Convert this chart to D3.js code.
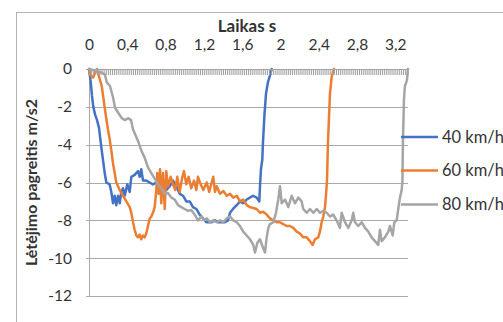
<!DOCTYPE html>
<html>
<head>
<meta charset="utf-8">
<script src="https://cdn.jsdelivr.net/npm/d3@7"></script>
<style>
  html, body { margin: 0; padding: 0; background: #fff; }
  svg { display: block; }
  text { font-family: Lato, "Open Sans", sans-serif; fill: #333; }
</style>
</head>
<body>
<svg id="chart" width="503" height="322"></svg>
<script>
// Braking deceleration over time for three initial speeds.
const seriesNames = ["40 km/h", "60 km/h", "80 km/h"];
const seriesColors = ["#4472C4", "#ED7D31", "#A5A5A5"];

const xLabelTicks = [0, 0.4, 0.8, 1.2, 1.6, 2, 2.4, 2.8, 3.2];
const yTicks = [0, -2, -4, -6, -8, -10, -12];

const t40 = [0, 0.016, 0.031, 0.045, 0.063, 0.084, 0.104, 0.128, 0.146, 0.164, 0.181, 0.216, 0.233, 0.251, 0.268, 0.285, 0.303, 0.321, 0.337, 0.355, 0.373, 0.400, 0.425, 0.442, 0.477, 0.512, 0.530, 0.546, 0.564, 0.598, 0.634, 0.668, 0.703, 0.738, 0.773, 0.807, 0.843, 0.877, 0.912, 0.947, 0.982, 1.016, 1.052, 1.086, 1.121, 1.156, 1.191, 1.225, 1.243, 1.281, 1.316, 1.347, 1.386, 1.420, 1.452, 1.473, 1.504, 1.543, 1.577, 1.608, 1.647, 1.681, 1.713, 1.751, 1.779, 1.786, 1.796, 1.810, 1.817, 1.833, 1.849, 1.869, 1.890, 1.908];
const v40 = [0, -0.6, -1.4, -2.0, -2.4, -2.7, -3.1, -4.1, -4.8, -5.5, -6.0, -6.1, -6.5, -7.1, -6.7, -7.2, -6.7, -7.1, -6.5, -6.3, -6.7, -6.1, -6.5, -5.7, -5.6, -5.4, -5.7, -5.3, -5.9, -5.9, -6.0, -6.1, -6.0, -6.1, -6.3, -6.4, -6.2, -5.9, -6.2, -6.6, -6.7, -7.0, -7.0, -7.3, -7.4, -7.7, -7.9, -8.1, -8.1, -8.1, -8.0, -8.1, -8.1, -8.1, -8.0, -7.6, -7.4, -7.2, -7.0, -7.1, -6.9, -6.8, -6.7, -6.8, -7.0, -6.2, -5.3, -4.8, -3.9, -2.4, -1.3, -0.7, -0.35, 0];

const t60 = [0, 0.010, 0.042, 0.063, 0.084, 0.099, 0.133, 0.167, 0.198, 0.216, 0.233, 0.251, 0.268, 0.285, 0.321, 0.355, 0.390, 0.425, 0.442, 0.460, 0.477, 0.494, 0.512, 0.530, 0.546, 0.564, 0.582, 0.598, 0.616, 0.634, 0.651, 0.668, 0.686, 0.703, 0.713, 0.728, 0.742, 0.755, 0.773, 0.791, 0.807, 0.825, 0.853, 0.877, 0.901, 0.922, 0.947, 0.971, 0.992, 1.016, 1.041, 1.068, 1.097, 1.121, 1.138, 1.167, 1.194, 1.229, 1.256, 1.281, 1.298, 1.316, 1.334, 1.368, 1.403, 1.438, 1.473, 1.507, 1.543, 1.577, 1.611, 1.647, 1.681, 1.716, 1.751, 1.786, 1.820, 1.856, 1.890, 1.925, 1.960, 1.995, 2.029, 2.065, 2.099, 2.134, 2.169, 2.204, 2.238, 2.274, 2.308, 2.336, 2.360, 2.395, 2.412, 2.430, 2.447, 2.465, 2.475, 2.486, 2.496, 2.517, 2.535, 2.559];
const v60 = [0, -0.3, -0.46, -0.2, 0, -0.3, -0.9, -2.15, -3.2, -3.7, -4.3, -5.0, -5.5, -6.0, -6.4, -6.7, -7.0, -7.3, -7.6, -8.1, -8.5, -8.8, -8.9, -8.75, -9.0, -8.8, -8.9, -8.7, -8.3, -7.9, -7.8, -7.6, -7.3, -6.4, -5.5, -6.6, -5.3, -7.1, -5.5, -7.4, -5.4, -6.2, -5.7, -6.1, -6.4, -5.7, -6.5, -5.8, -5.4, -6.1, -5.7, -6.3, -5.9, -6.4, -5.7, -6.1, -6.4, -6.0, -6.5, -6.0, -5.7, -6.5, -6.2, -6.6, -6.45, -6.7, -6.6, -6.8, -6.7, -7.0, -6.9, -7.2, -7.3, -7.35, -7.4, -7.6, -7.55, -7.7, -7.9, -8.0, -8.1, -8.1, -8.2, -8.3, -8.3, -8.4, -8.6, -8.7, -8.9, -8.9, -9.1, -9.3, -9.0, -8.9, -8.6, -8.1, -7.8, -7.3, -6.7, -5.9, -3.9, -1.3, -0.4, 0];

const t80 = [0, 0.042, 0.094, 0.133, 0.167, 0.185, 0.219, 0.251, 0.272, 0.303, 0.342, 0.376, 0.407, 0.439, 0.460, 0.477, 0.512, 0.546, 0.582, 0.616, 0.651, 0.686, 0.721, 0.755, 0.791, 0.825, 0.860, 0.895, 0.930, 0.964, 0.999, 1.034, 1.068, 1.104, 1.138, 1.173, 1.208, 1.229, 1.264, 1.298, 1.334, 1.368, 1.403, 1.438, 1.473, 1.507, 1.543, 1.577, 1.611, 1.647, 1.681, 1.716, 1.734, 1.758, 1.786, 1.814, 1.838, 1.856, 1.873, 1.890, 1.925, 1.953, 1.977, 1.995, 2.013, 2.047, 2.081, 2.117, 2.151, 2.186, 2.221, 2.238, 2.274, 2.308, 2.343, 2.378, 2.412, 2.447, 2.483, 2.517, 2.551, 2.586, 2.621, 2.639, 2.674, 2.708, 2.744, 2.760, 2.778, 2.813, 2.848, 2.883, 2.917, 2.952, 2.987, 3.021, 3.039, 3.057, 3.091, 3.126, 3.144, 3.172, 3.189, 3.214, 3.230, 3.248, 3.266, 3.274, 3.279, 3.290, 3.300, 3.321, 3.332];
const v80 = [0, -0.05, -0.15, -0.2, -0.3, -0.7, -0.9, -1.5, -2.05, -2.3, -2.6, -2.7, -2.6, -2.7, -3.2, -3.4, -3.8, -4.3, -4.7, -5.2, -5.5, -5.8, -6.1, -6.3, -6.6, -6.55, -6.8, -6.9, -7.2, -7.3, -7.4, -7.5, -7.45, -7.7, -8.0, -7.8, -8.0, -7.9, -8.1, -8.0, -8.1, -8.0, -8.1, -7.9, -7.8, -8.0, -8.1, -8.3, -8.6, -8.8, -9.0, -9.3, -9.7, -9.2, -9.0, -9.4, -9.7, -8.9, -8.4, -8.2, -8.1, -7.6, -6.9, -6.2, -7.1, -6.9, -7.3, -6.7, -7.1, -6.8, -7.0, -7.4, -7.6, -7.4, -7.6, -7.4, -7.6, -7.5, -7.6, -7.8, -7.7, -8.0, -8.4, -7.6, -8.1, -8.4, -8.0, -7.6, -8.1, -8.3, -8.1, -8.4, -8.6, -8.9, -9.1, -9.3, -8.5, -9.1, -8.9, -8.6, -8.3, -8.8, -8.1, -8.0, -7.4, -6.8, -6.4, -5.9, -3.9, -1.6, -0.9, -0.6, 0];

const times = [t40, t60, t80];
const values = [v40, v60, v80];

const svg = d3.select("#chart");

// Chart area frame (extends past the visible window on the right and bottom)
svg.append("rect")
  .attr("x", 16.5).attr("y", 12.5)
  .attr("width", 600).attr("height", 400)
  .attr("fill", "none").attr("stroke", "#b4b4b4").attr("stroke-width", 1);

const plot = { left: 89, right: 408, top: 69, bottom: 296 };

const x = d3.scaleLinear().domain([0, 3.332]).range([plot.left, plot.right]);
const y = d3.scaleLinear().domain([-12, 0]).range([plot.bottom, plot.top]);

const fmtComma = d => String(+d.toFixed(1)).replace(".", ",");

// Horizontal gridlines
svg.append("g")
  .attr("transform", `translate(${plot.left},0)`)
  .call(d3.axisLeft(y).tickValues(yTicks.filter(d => d !== 0)).tickSize(-(plot.right - plot.left)).tickFormat(""))
  .call(g => g.select(".domain").remove())
  .call(g => g.selectAll("line").attr("stroke", "#a9a9a9").attr("shape-rendering", "crispEdges"));

// Vertical value axis line with short outer ticks and labels
const yAxis = svg.append("g")
  .attr("transform", `translate(${plot.left},0)`)
  .call(d3.axisLeft(y).tickValues(yTicks).tickSize(3).tickSizeOuter(0).tickPadding(14).tickFormat(d => String(d)));
yAxis.select(".domain").attr("stroke", "#a9a9a9").attr("shape-rendering", "crispEdges");
yAxis.selectAll(".tick line").attr("stroke", "#a9a9a9").attr("shape-rendering", "crispEdges");
yAxis.selectAll(".tick text")
  .style("font-family", "Lato, 'Open Sans', sans-serif")
  .style("font-size", "15.5px").attr("fill", "#333");

// Series lines
const line = d3.line().x(d => x(d[0])).y(d => y(d[1]));
seriesNames.forEach((name, i) => {
  const pts = times[i].map((t, k) => [t, values[i][k]]);
  svg.append("path")
    .datum(pts)
    .attr("d", line)
    .attr("fill", "none")
    .attr("stroke", seriesColors[i])
    .attr("stroke-width", 2.5)
    .attr("stroke-linejoin", "round")
    .attr("stroke-linecap", "round");
});

// Time axis along the top: dense minor ticks hanging into the plot
const minorTicks = d3.range(0, 166.5).map(k => +(k * 0.02).toFixed(2));
const xMinor = svg.append("g")
  .attr("transform", `translate(0,${plot.top})`)
  .call(d3.axisBottom(x).tickValues(minorTicks).tickSize(6).tickSizeOuter(6).tickFormat(""));
xMinor.select(".domain").attr("stroke", "#a9a9a9").attr("shape-rendering", "crispEdges");
xMinor.selectAll(".tick line").attr("stroke", "#a0a0a0").attr("stroke-width", 1);

// Time axis labels
const xLab = svg.append("g")
  .attr("transform", `translate(0,${plot.top})`)
  .call(d3.axisTop(x).tickValues(xLabelTicks).tickSize(0).tickPadding(19).tickFormat(fmtComma));
xLab.select(".domain").remove();
xLab.selectAll(".tick text")
  .style("font-family", "Lato, 'Open Sans', sans-serif")
  .style("font-size", "15.5px").attr("fill", "#333");

// Axis titles
svg.append("text")
  .attr("x", 247).attr("y", 32)
  .attr("text-anchor", "middle")
  .style("font-size", "17px").style("font-weight", "bold")
  .attr("fill", "#333")
  .text("Laikas s");

svg.append("text")
  .attr("transform", `translate(37,${(plot.top + plot.bottom) / 2}) rotate(-90)`)
  .attr("text-anchor", "middle")
  .style("font-size", "16px").style("font-weight", "bold")
  .attr("fill", "#333")
  .text("Lėtėjimo pagreitis m/s2");

// Legend
const legendY = [137, 170.5, 204.5];
const legend = svg.append("g");
seriesNames.forEach((name, i) => {
  legend.append("line")
    .attr("x1", 401).attr("x2", 438)
    .attr("y1", legendY[i]).attr("y2", legendY[i])
    .attr("stroke", seriesColors[i]).attr("stroke-width", 2.5);
  legend.append("text")
    .attr("x", 442).attr("y", legendY[i])
    .attr("dy", "0.35em")
    .style("font-size", "16.5px")
    .attr("fill", "#333")
    .text(name);
});
</script>
</body>
</html>
